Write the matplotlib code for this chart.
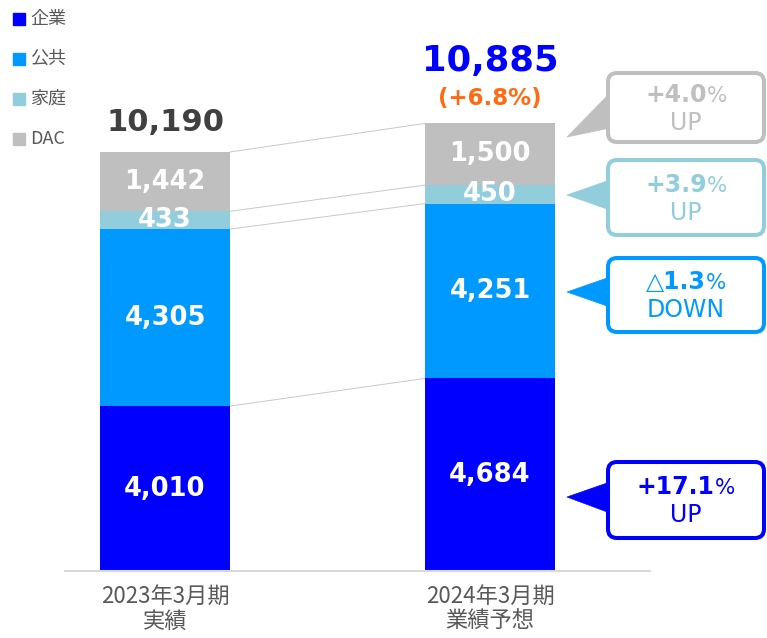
import matplotlib
matplotlib.use("Agg")
import matplotlib.pyplot as plt
import matplotlib.transforms as mtransforms
from matplotlib.patches import FancyBboxPatch, Polygon, Rectangle
from matplotlib.offsetbox import TextArea, HPacker, AnnotationBbox

# ---------------- data ----------------
periods = ["2023年3月期\n実績", "2024年3月期\n業績予想"]
segments = ["企業", "公共", "家庭", "DAC"]
kigyo = [4010, 4684]
kokyo = [4305, 4251]
katei = [433, 450]
dac = [1442, 1500]
totals = [10190, 10885]
total_change = "(+6.8%)"
change_nums = ["+17.1", "△1.3", "+3.9", "+4.0"]
change_words = ["UP", "DOWN", "UP", "UP"]

colors = ["#0000FF", "#0099FF", "#92CDDC", "#BFBFBF"]
series = [kigyo, kokyo, katei, dac]

W, H = 767, 638
fig = plt.figure(figsize=(W / 100, H / 100), dpi=100)
ax = fig.add_axes([65 / W, (H - 571) / H, 585 / W, 571 / H])
xpx_per = 325.0
ypx_per = 0.04112
ax.set_xlim(-100 / xpx_per, 1 + 160 / xpx_per)
ax.set_ylim(0, 571 / ypx_per)
ax.axis("off")

# pixel transform, origin top-left
PX = mtransforms.Affine2D().scale(1 / W, -1 / H).translate(0, 1) + fig.transFigure

xs = [0, 1]
bw = 0.4
bottoms = [0, 0]
bounds = [[0], [0]]
for vals, col in zip(series, colors):
    ax.bar(xs, vals, bw, bottom=bottoms, color=col, zorder=2)
    for i in range(2):
        ax.text(xs[i], bottoms[i] + vals[i] / 2, f"{vals[i]:,}", ha="center",
                va="center", color="white", fontsize=18.5, fontweight="bold",
                family="DejaVu Sans", zorder=4)
    bottoms = [b + v for b, v in zip(bottoms, vals)]
    for i in range(2):
        bounds[i].append(bottoms[i])

# connector lines
for k in [1, 2, 3, 4]:
    ax.plot([xs[0] + bw / 2, xs[1] - bw / 2], [bounds[0][k], bounds[1][k]],
            color="#C8C8C8", lw=0.7, zorder=1)

# baseline
ax.plot([-100 / xpx_per, 1 + 160 / xpx_per], [0, 0], color="#D9D9D9", lw=1.5,
        zorder=3, clip_on=False)

# totals
ax.text(xs[0], totals[0] + 29 / ypx_per, f"{totals[0]:,}", ha="center", va="center",
        fontsize=22, fontweight="bold", color="#404040")
ax.text(xs[1], totals[1] + 62 / ypx_per, f"{totals[1]:,}", ha="center", va="center",
        fontsize=25.5, fontweight="bold", color="#0000FF")
ax.text(xs[1], totals[1] + 25 / ypx_per, total_change, ha="center", va="center",
        fontsize=16.5, fontweight="bold", color="#FF6A13")

# x labels
for i, lab in enumerate(periods):
    ax.text(xs[i], -14 / ypx_per, lab, ha="center", va="top", fontsize=16,
            color="#595959", family=["Noto Sans CJK JP", "DejaVu Sans"],
            linespacing=1.1, clip_on=False)

# legend (top-left)
for j, (name, col) in enumerate(zip(segments, colors)):
    y = 19 + 40 * j
    fig.patches.append(Rectangle((13, y - 6), 12, 12, transform=PX, color=col))
    fig.text(30, y, name, ha="left", va="center", fontsize=13,
             color="#595959", family=["Noto Sans CJK JP", "DejaVu Sans"],
             transform=PX)

# callouts: (box top px, box bottom px, tip px y, base top, base bottom)
callouts = [
    (462, 538, 497, 482, 513),
    (258, 332, 292, 277, 307),
    (160, 235, 195, 180, 210),
    (73, 142, 137, 93, 128),
]
bx0, bx1 = 608, 764
for j, (t, b, tip, bt, bb) in enumerate(callouts):
    col = colors[j]
    tri = Polygon([(bx0 + 2, bt), (567, tip), (bx0 + 2, bb)], closed=True,
                  fc=col, ec=col, lw=0.5, transform=PX, zorder=6)
    fig.patches.append(tri)
    box = FancyBboxPatch((bx0, t), bx1 - bx0, b - t,
                         boxstyle="round,pad=0,rounding_size=9",
                         fc="white", ec=col, lw=2.9, transform=PX, zorder=7)
    fig.patches.append(box)
    cx = (bx0 + bx1) / 2
    midy = (t + b) / 2
    ta1 = TextArea(change_nums[j], textprops=dict(fontsize=17, fontweight="bold",
                                                  color=col, family="DejaVu Sans"))
    ta2 = TextArea("%", textprops=dict(fontsize=15.5, color=col, family="DejaVu Sans"))
    pk = HPacker(children=[ta1, ta2], align="baseline", pad=0, sep=0)
    ab = AnnotationBbox(pk, (cx, midy - 13), xycoords=PX, frameon=False,
                        box_alignment=(0.5, 0.5), annotation_clip=False, zorder=9)
    fig.add_artist(ab)
    fig.text(cx, midy + 15, change_words[j], ha="center", va="center",
             fontsize=17, color=col, family="DejaVu Sans", zorder=9, transform=PX)

fig.savefig("out.png", dpi=100)
